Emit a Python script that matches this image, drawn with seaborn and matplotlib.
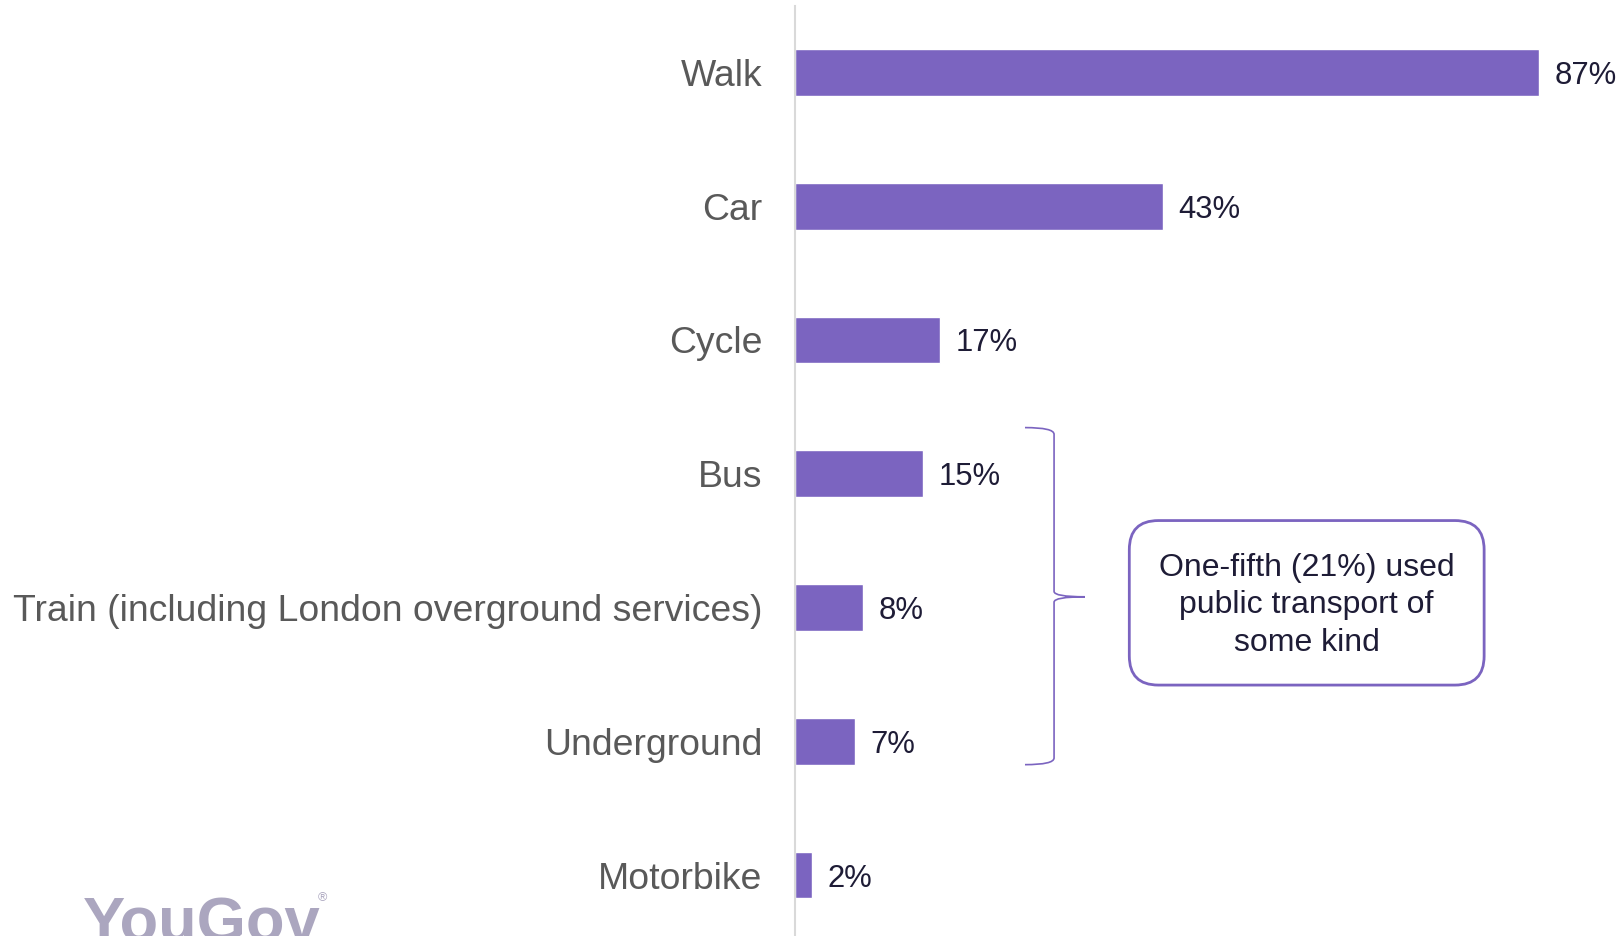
import matplotlib
matplotlib.use("Agg")
import matplotlib.pyplot as plt
import seaborn as sns
from matplotlib.patches import FancyBboxPatch, PathPatch
from matplotlib.path import Path

# Data
categories = ["Walk", "Car", "Cycle", "Bus",
              "Train (including London overground services)",
              "Underground", "Motorbike"]
values = [87, 43, 17, 15, 8, 7, 2]
note_text = "One-fifth (21%) used\npublic transport of\nsome kind"

bar_color = "#7B64C0"
label_color = "#595959"
value_color = "#1E1C36"

sns.set_theme(style="white")
plt.rcParams["font.family"] = ["Liberation Sans", "DejaVu Sans"]

fig = plt.figure(figsize=(16.24, 9.36), dpi=100)
ax = fig.add_axes([795 / 1624, 0, 1 - 795 / 1624, 930 / 936])

sns.barplot(x=values, y=categories, color=bar_color, width=0.35,
            orient="h", ax=ax, saturation=1)

ax.set_xlim(0, 829 / 8.55)
ax.set_ylim(6.456, -0.497)

# value labels
for i, v in enumerate(values):
    ax.text(v + 1.8, i, f"{v}%", va="center_baseline", ha="left",
            fontsize=22.3, color=value_color, clip_on=False)

# axes styling
for s in ["top", "right", "bottom"]:
    ax.spines[s].set_visible(False)
ax.spines["left"].set_color("#D9D9D9")
ax.spines["left"].set_linewidth(1.5)
ax.set_xticks([])
ax.set_xlabel("")
ax.set_ylabel("")
ax.tick_params(axis="y", length=0, pad=23.5, labelsize=26.9, labelcolor=label_color)

# curly bracket around public transport
bx0, bx1, btip = 26.9, 30.3, 33.9
y_top, y_mid, y_bot = 2.655, 3.92, 5.175
verts = [
    (bx0, y_top), (bx1, y_top), (bx1, y_top + 0.05),
    (bx1, y_mid - 0.04), (bx1, y_mid), (btip, y_mid),
    (bx1, y_mid), (bx1, y_mid + 0.04),
    (bx1, y_bot - 0.05), (bx1, y_bot), (bx0, y_bot),
]
codes = [Path.MOVETO, Path.CURVE3, Path.CURVE3,
         Path.LINETO, Path.CURVE3, Path.CURVE3,
         Path.CURVE3, Path.CURVE3,
         Path.LINETO, Path.CURVE3, Path.CURVE3]
ax.add_patch(PathPatch(Path(verts, codes), fill=False, edgecolor=bar_color,
                       linewidth=1.2, clip_on=False))

# rounded note box
aspect = 8.55 / 133.8
box = FancyBboxPatch((39.1, 3.35), 80.6 - 39.1, 4.58 - 3.35,
                     boxstyle="round,pad=0,rounding_size=3.4",
                     mutation_aspect=aspect, facecolor="white",
                     edgecolor=bar_color, linewidth=2, clip_on=False)
ax.add_patch(box)
ax.text(59.85, 3.985, note_text, ha="center", va="center",
        fontsize=23, color=value_color, linespacing=1.32)

# logo
fig.text(83 / 1624, -0.006, "YouGov", fontsize=45.5, fontweight="bold",
         color="#ABA6BF", ha="left", va="baseline")
fig.text(318 / 1624, 38 / 936, "®", fontsize=9, color="#ABA6BF",
         ha="left", va="center")

fig.savefig("out.png", dpi=100)
